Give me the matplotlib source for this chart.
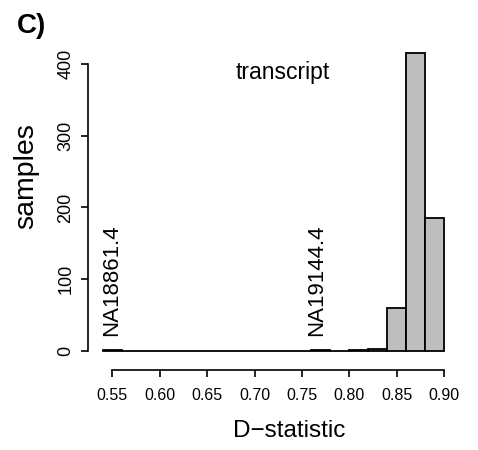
import matplotlib
matplotlib.use("Agg")
import matplotlib.pyplot as plt
import numpy as np

# histogram bins (D-statistic) and counts
bin_left = [0.54, 0.56, 0.58, 0.60, 0.62, 0.64, 0.66, 0.68, 0.70,
            0.72, 0.74, 0.76, 0.78, 0.80, 0.82, 0.84, 0.86, 0.88]
counts = [1, 0, 0, 0, 0, 0, 0, 0, 0, 0, 0, 1, 0, 1, 2, 59, 416, 186]
bin_width = 0.02

# outlier samples
outlier_names = ["NA18861.4", "NA19144.4"]
outlier_x = [0.549, 0.765]

xticks = [0.55, 0.60, 0.65, 0.70, 0.75, 0.80, 0.85, 0.90]
yticks = [0, 100, 200, 300, 400]

plt.rcParams['font.family'] = ['Liberation Sans', 'DejaVu Sans']

W, H = 478, 450
fig = plt.figure(figsize=(W / 100, H / 100), dpi=100)
# axes placed in pixels like the R plot region
left, right, bottom, top = 88.3, 457.9, 370, 41.4
ax = fig.add_axes([left / W, 1 - bottom / H, (right - left) / W, (bottom - top) / H])

ax.bar(bin_left, counts, width=bin_width, align='edge', color='#BEBEBE',
       edgecolor='black', linewidth=1.3)

ax.set_xlim(0.5247, 0.9144)
ax.set_ylim(-27, 432)

for s in ['top', 'right']:
    ax.spines[s].set_visible(False)
ax.spines['left'].set_bounds(0, 400)
ax.spines['bottom'].set_bounds(0.55, 0.90)
ax.spines['left'].set_linewidth(1.2)
ax.spines['bottom'].set_linewidth(1.2)

ax.set_xticks(xticks)
ax.set_xticklabels(["%.2f" % v for v in xticks])
ax.set_yticks(yticks)
ax.set_yticklabels([str(v) for v in yticks], rotation=90, va='center')
ax.tick_params(axis='x', length=5, width=1.2, pad=8, labelsize=11.5)
ax.tick_params(axis='y', length=5, width=1.2, pad=5, labelsize=13)

ax.set_xlabel("D\u2212statistic", fontsize=17.5)
ax.xaxis.set_label_coords(289.5 / W, 1 - 437 / H, transform=fig.transFigure)
ax.xaxis.label.set_va('baseline')
ax.set_ylabel("samples", fontsize=20.5)
ax.yaxis.set_label_coords(39 / W, 1 - 176.5 / H, transform=fig.transFigure)

for name, xv in zip(outlier_names, outlier_x):
    ax.text(xv, 20, name, rotation=90, ha='center', va='bottom', fontsize=16)

fig.text(282.5 / W, 1 - 73 / H, "transcript", ha='center', va='center', fontsize=16.5)
fig.text(17 / W, 1 - 13 / H, "C)", ha='left', va='top', fontsize=20, fontweight='bold')

fig.savefig("out.png", dpi=100)
